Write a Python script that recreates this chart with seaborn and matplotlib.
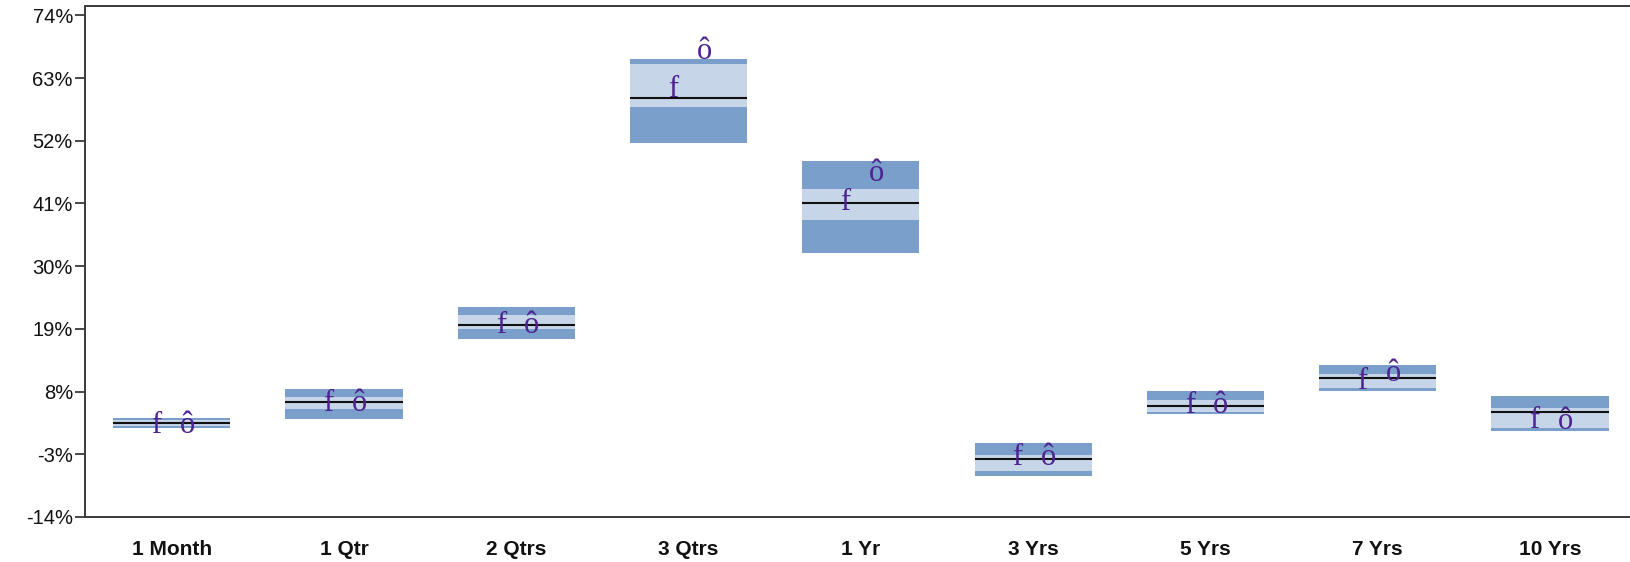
import numpy as np
import pandas as pd
import matplotlib
matplotlib.use("Agg")
import matplotlib.pyplot as plt
import seaborn as sns

# return ranges per period (percent)
periods = ["1 Month", "1 Qtr", "2 Qtrs", "3 Qtrs", "1 Yr", "3 Yrs", "5 Yrs", "7 Yrs", "10 Yrs"]
pct_05 = [1.7, 3.2, 17.3, 51.6, 32.4, -6.8, 4.0, 8.1, 1.0]
pct_25 = [2.0, 4.9, 18.9, 57.9, 38.1, -5.9, 4.4, 8.6, 1.7]
pct_50 = [2.5, 6.1, 19.7, 59.5, 41.1, -3.9, 5.5, 10.4, 4.5]
pct_75 = [2.95, 7.0, 21.5, 65.4, 43.5, -3.2, 6.5, 11.0, 5.2]
pct_95 = [3.4, 8.4, 22.8, 66.3, 48.4, -1.0, 8.1, 12.6, 7.2]
portfolio = [0.8, 4.6, 18.2, 59.7, 39.8, -4.9, 4.3, 8.5, 1.7]
benchmark = [0.8, 4.6, 18.2, 66.3, 44.9, -4.9, 4.3, 9.8, 1.5]
yticks = [-14, -3, 8, 19, 30, 41, 52, 63, 74]

dark = "#7a9fcb"
light = "#c6d5e8"
purple = "#4d2391"
frame = "#3a3a3a"

sns.set_theme(style="white")
plt.rcParams["font.family"] = ["Liberation Sans", "DejaVu Sans"]

df = pd.DataFrame({"period": periods, "low": pct_05, "q1": pct_25,
                   "q3": pct_75, "high": pct_95})
df["outer"] = df["high"] - df["low"]
df["inner"] = df["q3"] - df["q1"]

fig = plt.figure(figsize=(16.31, 5.62), dpi=100)
ax = fig.add_axes([85.5 / 1631, 45 / 562, 9 * 172.3 / 1631, 511.3 / 562])

bar_w = 0.68
sns.barplot(data=df, x="period", y="outer", order=periods, bottom=df["low"].to_numpy(),
            color=dark, saturation=1, width=bar_w, errorbar=None,
            linewidth=0, edgecolor="none", ax=ax)
sns.barplot(data=df, x="period", y="inner", order=periods, bottom=df["q1"].to_numpy(),
            color=light, saturation=1, width=bar_w, errorbar=None,
            linewidth=0, edgecolor="none", ax=ax)

xs = np.arange(len(periods))
ax.hlines(pct_50, xs - bar_w / 2, xs + bar_w / 2, color="#111111", lw=1.5, zorder=3)

for i in range(len(periods)):
    ax.text(xs[i] - 0.09, portfolio[i], "f", ha="center", va="baseline",
            fontsize=22, family=["Liberation Serif", "DejaVu Serif"], color=purple, zorder=4)
    ax.text(xs[i] + 0.09, benchmark[i], "ô", ha="center", va="baseline",
            fontsize=22, family=["Liberation Serif", "DejaVu Serif"], color=purple, zorder=4)

ax.set_xlim(-0.5, 8.5)
ax.set_ylim(-14, 75.7)
ax.set_yticks(yticks)
ax.set_yticklabels([f"{t}%" for t in yticks])
ax.set_xlabel("")
ax.set_ylabel("")

ax.tick_params(axis="y", left=True, length=7.5, width=1.3, color=frame, pad=1.5,
               labelsize=14.5, labelcolor="#111111")
ax.tick_params(axis="x", bottom=False, length=0, pad=16.5, labelsize=15, labelcolor="#111111")
for lab in ax.get_xticklabels():
    lab.set_fontweight("bold")

for side in ["left", "top", "bottom"]:
    ax.spines[side].set_color(frame)
    ax.spines[side].set_linewidth(1.4)
ax.spines["right"].set_visible(False)

fig.savefig("out.png", dpi=100)
